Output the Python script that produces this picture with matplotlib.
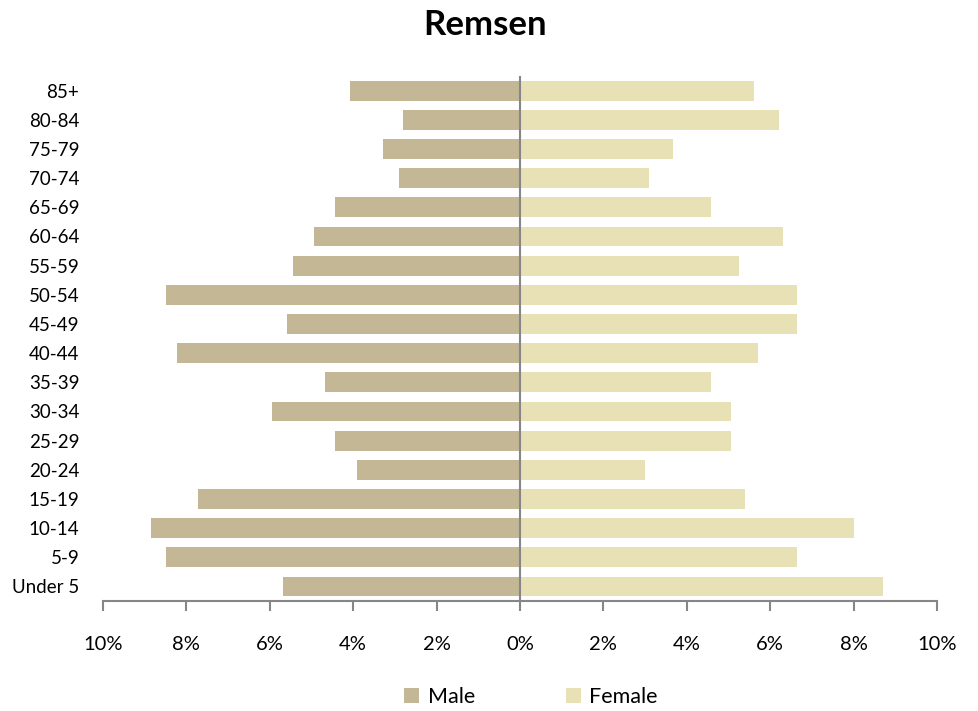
import numpy as np
import matplotlib.pyplot as plt
from matplotlib.ticker import FuncFormatter

plt.rcParams['font.family'] = ['Lato', 'DejaVu Sans']

# age groups from bottom to top
ages = ['Under 5', '5-9', '10-14', '15-19', '20-24', '25-29', '30-34', '35-39',
        '40-44', '45-49', '50-54', '55-59', '60-64', '65-69', '70-74', '75-79',
        '80-84', '85+']
male = [5.68, 8.48, 8.85, 7.71, 3.92, 4.44, 5.95, 4.68,
        8.23, 5.58, 8.48, 5.44, 4.93, 4.44, 2.89, 3.28, 2.80, 4.07]
female = [8.71, 6.65, 8.02, 5.40, 2.99, 5.06, 5.06, 4.58,
          5.71, 6.65, 6.65, 5.26, 6.30, 4.58, 3.10, 3.68, 6.20, 5.61]

male_color = '#C4B795'
female_color = '#E8E1B6'

fig = plt.figure(figsize=(9.79, 7.11), dpi=100)
ax = fig.add_axes([103/979, 110/711, 834/979, 525/711])

y = np.arange(len(ages))
ax.barh(y, -np.array(male), height=0.68, color=male_color, label='Male')
ax.barh(y, female, height=0.68, color=female_color, label='Female')

ax.set_xlim(-10, 10)
ax.set_ylim(-0.5, len(ages) - 0.5)
ax.axvline(0, color='#868686', lw=1.5)

ax.set_yticks(y)
ax.set_yticklabels(ages)
ax.set_xticks(np.arange(-10, 11, 2))
ax.xaxis.set_major_formatter(FuncFormatter(lambda v, p: f'{abs(v):.0f}%'))

for s in ['top', 'right', 'left']:
    ax.spines[s].set_visible(False)
ax.spines['bottom'].set_color('#868686')
ax.spines['bottom'].set_linewidth(1.5)
ax.tick_params(axis='y', length=0, pad=17, labelsize=13.5)
ax.tick_params(axis='x', length=7, width=1.5, color='#868686', pad=18, labelsize=14.5)

fig.text(0.495, 1 - 25/711, 'Remsen', ha='center', va='center',
         fontsize=25, fontweight='bold')

fig.legend(loc='center', bbox_to_anchor=(531/979, 14/711), ncol=2, frameon=False,
           fontsize=15.5, handlelength=0.7, handleheight=0.7, handletextpad=0.4,
           columnspacing=4.2)

fig.savefig('out.png', dpi=100)
